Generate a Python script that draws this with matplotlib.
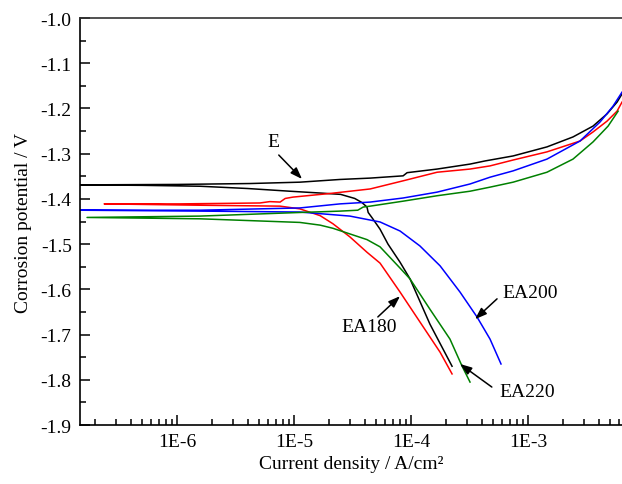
import numpy as np
import matplotlib
matplotlib.use("Agg")
from matplotlib import pyplot as plt
from matplotlib.ticker import FixedLocator, FuncFormatter, MultipleLocator, LogLocator, NullFormatter

plt.rcParams["font.family"] = ["Liberation Serif", "DejaVu Serif"]
plt.rcParams["axes.unicode_minus"] = False

# E (black): cathodic branch from bottom to the left, then anodic branch
e_i = [2.24e-4, 1.45e-4, 9.8e-5, 8.05e-5, 6.35e-5, 5.43e-5, 4.65e-5, 4.3e-5, 4.2e-5, 3.8e-5,
       3.3e-5, 2.5e-5, 1.67e-5, 9.2e-6, 4.0e-6, 1.57e-6, 5.0e-7, 1.48e-7,
       1.0e-6, 4.2e-6, 1.12e-5, 2.47e-5, 4.47e-5, 8.55e-5, 9.25e-5, 1.67e-4, 3.19e-4, 4.3e-4,
       7.45e-4, 1.45e-3, 2.42e-3, 3.59e-3, 4.73e-3, 5.76e-3, 6.35e-3]
e_v = [-1.770, -1.677, -1.577, -1.540, -1.500, -1.467, -1.442, -1.430, -1.418, -1.408,
       -1.399, -1.390, -1.387, -1.383, -1.377, -1.372, -1.370, -1.369,
       -1.368, -1.366, -1.363, -1.357, -1.354, -1.349, -1.342, -1.334, -1.323, -1.316,
       -1.305, -1.285, -1.263, -1.239, -1.212, -1.186, -1.168]

# EA180 (red)
ea180_i = [2.24e-4, 1.77e-4, 1.19e-4, 8.05e-5, 5.43e-5, 4.2e-5, 3.0e-5, 2.15e-5, 1.67e-5, 1.12e-5,
           7.6e-6, 1.57e-6, 2.38e-7,
           1.06e-6, 5.1e-6, 6.2e-6, 7.6e-6, 8.4e-6, 9.8e-6, 2.03e-5, 4.47e-5, 8.55e-5, 1.67e-4,
           3.19e-4, 4.73e-4, 7.45e-4, 1.45e-3, 2.78e-3, 3.59e-3, 4.73e-3, 5.76e-3, 6.35e-3]
ea180_v = [-1.787, -1.739, -1.672, -1.606, -1.542, -1.518, -1.484, -1.455, -1.437, -1.422,
           -1.416, -1.414, -1.411,
           -1.411, -1.409, -1.406, -1.407, -1.399, -1.396, -1.388, -1.378, -1.360, -1.341,
           -1.334, -1.327, -1.314, -1.296, -1.272, -1.252, -1.228, -1.206, -1.186]

# EA200 (blue)
ea200_i = [5.87e-4, 4.73e-4, 3.66e-4, 2.62e-4, 1.77e-4, 1.19e-4, 8.05e-5, 5.43e-5, 3.0e-5, 1.12e-5,
           1.57e-6, 1.48e-7,
           1.57e-6, 1.12e-5, 2.47e-5, 4.47e-5, 8.55e-5, 1.67e-4, 3.19e-4, 4.73e-4, 7.45e-4,
           1.45e-3, 2.78e-3, 4.12e-3, 5.32e-3, 6.35e-3]
ea200_v = [-1.765, -1.710, -1.661, -1.606, -1.548, -1.504, -1.471, -1.451, -1.438, -1.429,
           -1.427, -1.425,
           -1.425, -1.420, -1.411, -1.407, -1.398, -1.385, -1.367, -1.352, -1.338,
           -1.312, -1.272, -1.230, -1.195, -1.164]

# EA220 (green)
ea220_i = [3.19e-4, 2.73e-4, 2.15e-4, 1.45e-4, 9.8e-5, 8.05e-5, 5.43e-5, 4.2e-5, 2.15e-5, 1.67e-5,
           1.12e-5, 1.57e-6, 1.7e-7,
           1.57e-6, 1.12e-5, 2.47e-5, 3.5e-5, 3.9e-5, 4.47e-5, 8.55e-5, 1.67e-4, 3.19e-4, 4.73e-4,
           7.45e-4, 1.45e-3, 2.42e-3, 3.59e-3, 4.83e-3, 5.88e-3]
ea220_v = [-1.805, -1.770, -1.710, -1.644, -1.577, -1.553, -1.506, -1.490, -1.465, -1.458,
           -1.452, -1.444, -1.441,
           -1.438, -1.430, -1.427, -1.425, -1.418, -1.416, -1.405, -1.393, -1.383, -1.374,
           -1.363, -1.341, -1.312, -1.274, -1.239, -1.206]

fig = plt.figure(figsize=(6.22, 4.85), dpi=100)
ax = fig.add_axes([0.1286, 0.1216, 0.8714, 0.8392])

ax.plot(e_i, e_v, color="black", lw=1.1)
ax.plot(ea180_i, ea180_v, color="#ff0000", lw=1.1)
ax.plot(ea200_i, ea200_v, color="#0000ff", lw=1.1)
ax.plot(ea220_i, ea220_v, color="#008000", lw=1.1)

ax.set_xscale("log")
ax.set_xlim(1.48e-7, 6.35e-3)
ax.set_ylim(-1.9, -1.0)

ax.xaxis.set_major_locator(FixedLocator([1e-6, 1e-5, 1e-4, 1e-3]))
ax.xaxis.set_major_formatter(FuncFormatter(lambda x, p: f"1E{int(round(np.log10(x)))}"))
ax.xaxis.set_minor_locator(LogLocator(base=10, subs=np.arange(2, 10), numticks=20))
ax.xaxis.set_minor_formatter(NullFormatter())
ax.yaxis.set_major_locator(MultipleLocator(0.1))
ax.yaxis.set_minor_locator(MultipleLocator(0.05))
ax.yaxis.set_major_formatter(FuncFormatter(lambda y, p: f"{y:.1f}"))

ax.tick_params(which="both", direction="in", top=False, right=False, width=1.1, labelsize=14)
ax.tick_params(which="major", length=7, pad=6)
ax.tick_params(which="minor", length=4)
ax.spines["right"].set_visible(False)
for s in ["left", "bottom", "top"]:
    ax.spines[s].set_linewidth(1.2)
ax.spines["top"].set_color("#333333")

ax.set_xlabel("Current density / A/cm\u00b2", fontsize=14, labelpad=3)
ax.set_ylabel("Corrosion potential / V", fontsize=14, labelpad=6)

arrow = dict(arrowstyle="-|>,head_length=0.7,head_width=0.25", color="black", lw=1.1, shrinkA=0, shrinkB=0)
ax.annotate("", xy=(1.17e-5, -1.356), xytext=(7.4e-6, -1.303), arrowprops=arrow)
ax.text(6.6e-6, -1.274, "E", fontsize=14, ha="center", va="center")
ax.annotate("", xy=(8.05e-5, -1.615), xytext=(5.2e-5, -1.661), arrowprops=arrow)
ax.text(4.38e-5, -1.683, "EA180", fontsize=14, ha="center", va="center")
ax.annotate("", xy=(3.52e-4, -1.666), xytext=(5.43e-4, -1.621), arrowprops=arrow)
ax.text(1.04e-3, -1.606, "EA200", fontsize=14, ha="center", va="center")
ax.annotate("", xy=(2.62e-4, -1.765), xytext=(4.9e-4, -1.816), arrowprops=arrow)
ax.text(9.8e-4, -1.825, "EA220", fontsize=14, ha="center", va="center")

fig.savefig("out.png", dpi=100)
